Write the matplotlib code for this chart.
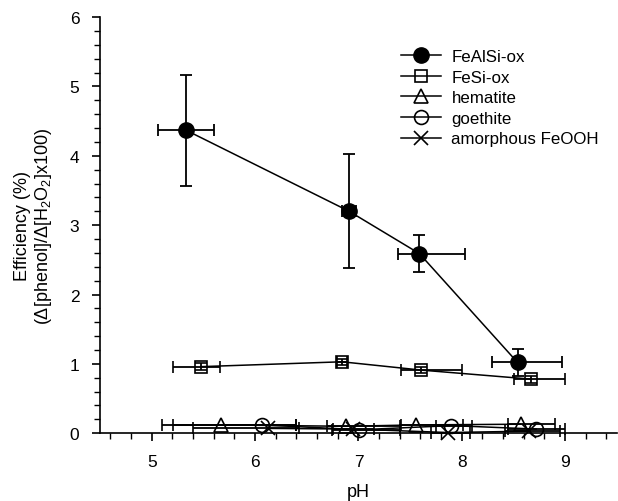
import matplotlib
matplotlib.use("Agg")
import matplotlib.pyplot as plt
from matplotlib.ticker import MultipleLocator
from matplotlib.lines import Line2D

plt.rcParams['font.family'] = ['Liberation Sans', 'DejaVu Sans']
plt.rcParams['mathtext.fontset'] = 'custom'
plt.rcParams['mathtext.rm'] = 'Liberation Sans'
plt.rcParams['mathtext.it'] = 'Liberation Sans'

# FeAlSi-ox
fealsi_x = [5.33, 6.91, 7.59, 8.54]
fealsi_y = [4.37, 3.20, 2.59, 1.02]
fealsi_yerr = [0.80, 0.82, 0.27, 0.19]
fealsi_xlo = [0.27, 0.07, 0.21, 0.25]
fealsi_xhi = [0.27, 0.07, 0.44, 0.43]

# FeSi-ox
fesi_x = [5.48, 6.84, 7.61, 8.67]
fesi_y = [0.96, 1.03, 0.91, 0.78]
fesi_yerr = [0.05, 0.04, 0.04, 0.05]
fesi_xlo = [0.27, 0.05, 0.20, 0.16]
fesi_xhi = [0.18, 0.05, 0.39, 0.33]

# hematite
hem_x = [5.67, 6.88, 7.56, 8.57]
hem_y = [0.12, 0.10, 0.12, 0.13]
hem_xlo = [0.57, 0.18, 0.15, 0.12]
hem_xhi = [0.73, 0.52, 0.45, 0.33]

# goethite
goe_x = [6.07, 7.01, 7.90, 8.72]
goe_y = [0.12, 0.05, 0.11, 0.06]
goe_xlo = [0.86, 0.27, 0.15, 0.27]
goe_xhi = [0.33, 0.39, 0.20, 0.28]

# amorphous FeOOH
am_x = [6.12, 6.95, 7.87, 8.65]
am_y = [0.07, 0.06, 0.01, 0.03]
am_xlo = [0.72, 0.20, 0.17, 0.23]
am_xhi = [0.30, 0.20, 0.21, 0.30]

labels = ['FeAlSi-ox', 'FeSi-ox', 'hematite', 'goethite', 'amorphous FeOOH']

fig = plt.figure(figsize=(6.18, 5.02), dpi=100)
ax = fig.add_axes([0.162, 0.135, 0.836, 0.829])

common = dict(color='black', ecolor='black', elinewidth=1.3, capsize=4.3,
              capthick=1.3, lw=1.1, clip_on=False)

styles = [
    dict(marker='o', ms=11, mfc='black', mec='black'),
    dict(marker='s', ms=8.5, mfc='none', mec='black', mew=1.2),
    dict(marker='^', ms=9.5, mfc='none', mec='black', mew=1.2),
    dict(marker='o', ms=10, mfc='none', mec='black', mew=1.2),
    dict(marker='x', ms=9.5, mfc='none', mec='black', mew=1.2),
]

ax.errorbar(fealsi_x, fealsi_y, yerr=fealsi_yerr, xerr=[fealsi_xlo, fealsi_xhi],
            zorder=5, **styles[0], **common)
ax.errorbar(fesi_x, fesi_y, yerr=fesi_yerr, xerr=[fesi_xlo, fesi_xhi],
            zorder=4, **styles[1], **common)
ax.errorbar(hem_x, hem_y, xerr=[hem_xlo, hem_xhi], zorder=3, **styles[2], **common)
ax.errorbar(goe_x, goe_y, xerr=[goe_xlo, goe_xhi], zorder=3, **styles[3], **common)
ax.errorbar(am_x, am_y, xerr=[am_xlo, am_xhi], zorder=3, **styles[4], **common)

ax.set_xlim(4.5, 9.5)
ax.set_ylim(0, 6)
ax.xaxis.set_major_locator(MultipleLocator(1))
ax.xaxis.set_minor_locator(MultipleLocator(0.2))
ax.yaxis.set_major_locator(MultipleLocator(1))
ax.yaxis.set_minor_locator(MultipleLocator(0.2))
ax.set_xticks([5, 6, 7, 8, 9])
ax.tick_params(which='major', direction='out', length=6, width=1.2, labelsize=12.5, pad=9)
ax.tick_params(which='minor', direction='out', length=4, width=1.0)
for s in ['top', 'right']:
    ax.spines[s].set_visible(False)
for s in ['left', 'bottom']:
    ax.spines[s].set_linewidth(1.2)

ax.set_xlabel('pH', fontsize=13, labelpad=10)
ax.set_ylabel('Efficiency (%)\n(Δ[phenol]/Δ[H$_2$O$_2$]x100)', fontsize=13,
              labelpad=11, linespacing=1.15)

handles = [Line2D([], [], color='black', lw=1.1, **st) for st in styles]
ax.legend(handles, labels, loc='upper left', bbox_to_anchor=(0.583, 0.923), frameon=False,
          fontsize=12.2, handlelength=2.36, labelspacing=0.33, handletextpad=0.6,
          borderaxespad=0, borderpad=0)

fig.savefig('out.png', dpi=100)
